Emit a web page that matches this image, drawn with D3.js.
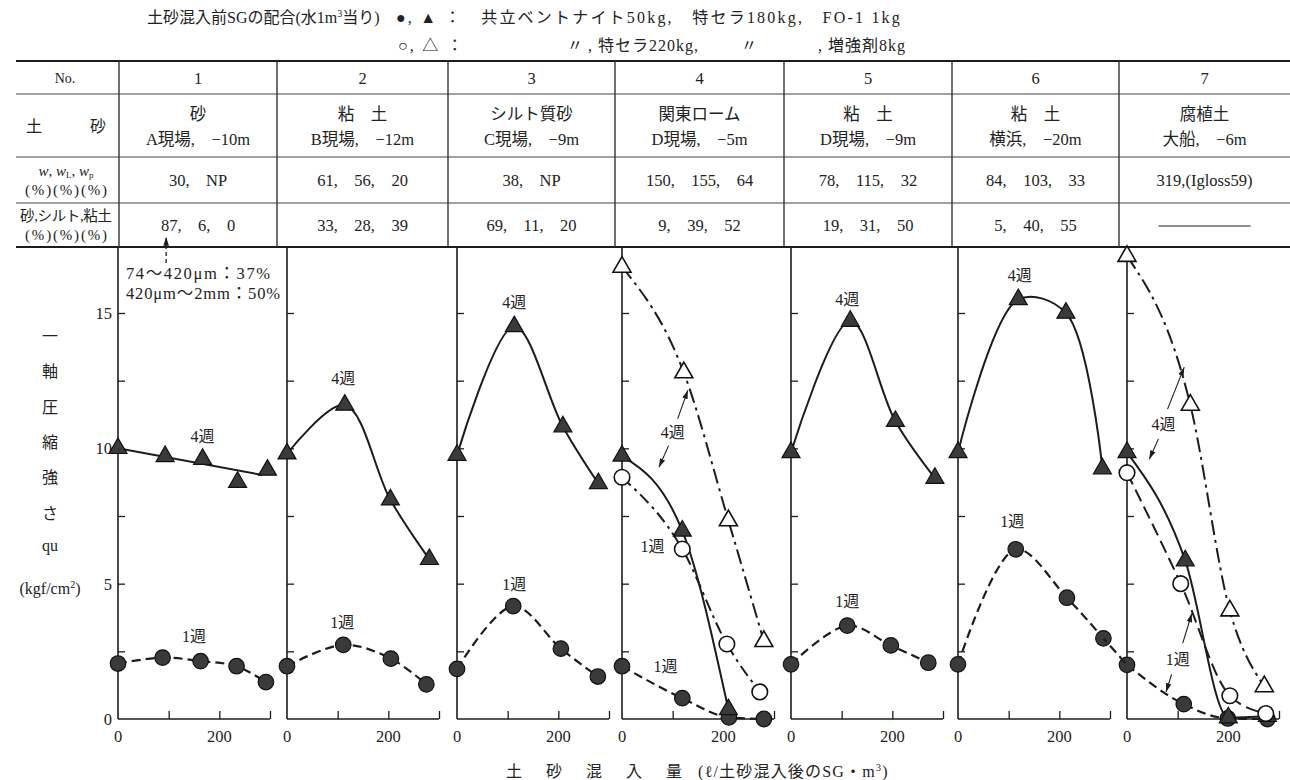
<!DOCTYPE html>
<html>
<head>
<meta charset="utf-8">
<script src="https://cdn.jsdelivr.net/npm/d3@7"></script>
<style>
  body { margin: 0; background: #fff; }
  svg text { font-family: "Liberation Serif", "Noto Sans CJK JP", serif; fill: #222; }
</style>
</head>
<body>
<svg id="chart" width="1290" height="780"></svg>
<script>
// Table contents (one entry per test No.)
const panelNo = ["1", "2", "3", "4", "5", "6", "7"];
const soilType = ["砂", "粘　土", "シルト質砂", "関東ローム", "粘　土", "粘　土", "腐植土"];
const soilSite = ["A現場,　−10m", "B現場,　−12m", "C現場,　−9m", "D現場,　−5m", "D現場,　−9m", "横浜,　−20m", "大船,　−6m"];
const consistency = ["30,　NP", "61,　56,　20", "38,　NP", "150,　155,　64", "78,　115,　32", "84,　103,　33", "319,(Igloss59)"];
const grading = ["87,　6,　0", "33,　28,　39", "69,　11,　20", "9,　39,　52", "19,　31,　50", "5,　40,　55", null];

// header: mix of the SG before soil is mixed in
const mixFilled = ["●, ▲ ：", "共立ベントナイト50kg,", "特セラ180kg,", "FO-1 1kg"];
const mixOpen = ["○, △ ：", "〃", ", 特セラ220kg,", "〃", ", 増強剤8kg"];

// qu (kgf/cm2) vs mixed soil amount (l / SG m3): [x, qu]
// ● 1 week, mix with 特セラ180kg
const week1Filled = [
  [[0, 2.05], [88, 2.27], [163, 2.14], [234, 1.95], [292, 1.36]],
  [[0, 1.95], [111, 2.74], [205, 2.23], [275, 1.28]],
  [[0, 1.85], [111, 4.17], [205, 2.6], [278, 1.57]],
  [[0, 1.95], [119, 0.77], [211, 0.06], [280, 0.0]],
  [[0, 2.02], [111, 3.45], [197, 2.72], [271, 2.08]],
  [[0, 2.02], [114, 6.27], [215, 4.48], [287, 2.98]],
  [[0, 2.0], [112, 0.55], [199, 0.02], [277, 0.0]]
];
// ▲ 4 weeks
const week4Filled = [
  [[0, 10.0], [93, 9.7], [167, 9.6], [236, 8.75], [295, 9.2]],
  [[0, 9.8], [114, 11.6], [204, 8.1], [281, 5.9]],
  [[0, 9.75], [113, 14.5], [209, 10.8], [279, 8.7]],
  [[0, 9.72], [119, 6.95], [210, 0.35]],
  [[0, 9.85], [117, 14.7], [206, 11.0], [284, 8.9]],
  [[0, 9.85], [119, 15.5], [213, 15.0], [285, 9.25]],
  [[0, 9.85], [115, 5.85], [200, 0.05], [277, 0.1]]
];
// panel 1: straight fitted line for ▲
const week4Fit1 = [[0, 10.0], [284, 9.02]];
// ○ 1 week / △ 4 weeks, mix with 特セラ220kg + 増強剤
const week1Open = [null, null, null,
  [[0, 8.93], [119, 6.28], [207, 2.77], [272, 1.0]],
  null, null,
  [[0, 9.1], [106, 5.0], [203, 0.86], [274, 0.2]]];
const week4Open = [null, null, null,
  [[0, 16.7], [122, 12.8], [210, 7.33], [280, 2.87]],
  null, null,
  [[0, 17.1], [125, 11.6], [203, 4.0], [271, 1.2]]];

// curve labels: [panel index, text, x, qu]
const curveLabels = [
  [0, "4週", 167, 10.45], [0, "1週", 150, 3.05],
  [1, "4週", 111, 12.6], [1, "1週", 109, 3.6],
  [2, "4週", 113, 15.4], [2, "1週", 113, 5.0],
  [3, "4週", 100, 10.6], [3, "1週", 60, 6.4], [3, "1週", 86, 1.95],
  [4, "4週", 111, 15.5], [4, "1週", 111, 4.35],
  [5, "4週", 122, 16.4], [5, "1週", 107, 7.3],
  [6, "4週", 72, 10.9], [6, "1週", 100, 2.2]
];
// leader arrows: [panel, x1, qu1, x2, qu2]
const labelArrows = [
  [3, 110, 11.1, 130, 12.15], [3, 92, 10.1, 73, 9.3],
  [6, 80, 11.45, 113, 13.0], [6, 62, 10.35, 44, 9.6],
  [6, 110, 2.8, 128, 3.9], [6, 88, 1.65, 77, 1.0]
];

const yTicks = [0, 5, 10, 15];
const yMinor = [2.5, 5, 7.5, 10, 12.5, 15];
const xTicks = [100, 200, 300];
const xTickLabels = [0, 200];
const yTitle = ["一", "軸", "圧", "縮", "強", "さ"];

// ---- layout
const panelX = [118, 287, 457, 622, 791, 958, 1127];
const panelW = 152;
const tableTop = 61, tableBottom = 247;
const rowLines = [94, 157, 203];
const colLines = [119, 277, 448, 615, 784, 952, 1119];
const ink = "#1c1c1c";

const svg = d3.select("#chart");
const y = d3.scaleLinear().domain([0, 15]).range([719, 313]);
const xs = panelX.map((x0) => d3.scaleLinear().domain([0, 300]).range([x0, x0 + panelW]));

const defs = svg.append("defs");
defs.append("marker")
  .attr("id", "arrow")
  .attr("viewBox", "0 -4 10 8")
  .attr("refX", 10).attr("refY", 0)
  .attr("markerWidth", 9).attr("markerHeight", 7)
  .attr("markerUnits", "userSpaceOnUse")
  .attr("orient", "auto")
  .append("path").attr("d", "M0,-3.2L10,0L0,3.2").attr("fill", ink);

// ---- header
const h0 = svg.append("text").attr("x", 147).attr("y", 23).attr("font-size", 16);
h0.append("tspan").text("土砂混入前SGの配合(水1m");
h0.append("tspan").attr("font-size", 10).attr("dy", -6).text("3");
h0.append("tspan").attr("dy", 6).text("当り)");

const head = svg.append("g").attr("font-size", 16).attr("letter-spacing", 2.2);
// line 1: natural widths, remaining room shared between the gaps
const line1Start = 396, line1End = 902;
const l1 = mixFilled.map((t) => head.append("text").attr("y", 23).text(t));
const l1w = l1.map((t) => t.node().getComputedTextLength());
const gap = Math.max(6, (line1End - line1Start - d3.sum(l1w)) / (l1.length - 1));
let cur = line1Start;
l1.forEach((t, i) => { t.attr("x", cur); cur += l1w[i] + gap; });

// line 2, placed as in the print
head.append("text").attr("x", 398).attr("y", 51).text(mixOpen[0]);
head.append("text").attr("x", 576).attr("y", 51).attr("text-anchor", "middle").text(mixOpen[1]);
head.append("text").attr("x", 588).attr("y", 51).attr("letter-spacing", 1).text(mixOpen[2]);
head.append("text").attr("x", 750).attr("y", 51).attr("text-anchor", "middle").text(mixOpen[3]);
head.append("text").attr("x", 906).attr("y", 51).attr("text-anchor", "end")
  .attr("letter-spacing", 1).text(mixOpen[4]);

// ---- table
const tbl = svg.append("g");
tbl.append("line").attr("x1", 16).attr("x2", 1290).attr("y1", tableTop).attr("y2", tableTop)
  .attr("stroke", ink).attr("stroke-width", 2);
tbl.append("line").attr("x1", 16).attr("x2", 1290).attr("y1", tableBottom).attr("y2", tableBottom)
  .attr("stroke", ink).attr("stroke-width", 2);
tbl.selectAll("line.row").data(rowLines).enter().append("line")
  .attr("x1", 16).attr("x2", 1290).attr("y1", (d) => d).attr("y2", (d) => d)
  .attr("stroke", "#444").attr("stroke-width", 1.1);
tbl.selectAll("line.col").data(colLines).enter().append("line")
  .attr("x1", (d) => d).attr("x2", (d) => d).attr("y1", tableTop).attr("y2", tableBottom)
  .attr("stroke", "#333").attr("stroke-width", 1.4);

const colCenter = colLines.map((c, i) => (c + (colLines[i + 1] || 1290)) / 2);
const cell = tbl.append("g").attr("font-size", 16.5).attr("text-anchor", "middle");
const rowMid = [(tableTop + rowLines[0]) / 2, (rowLines[0] + rowLines[1]) / 2,
  (rowLines[1] + rowLines[2]) / 2, (rowLines[2] + tableBottom) / 2];

// row headers
cell.append("text").attr("x", 65).attr("y", rowMid[0] + 5).attr("font-size", 14).text("No.");
cell.append("text").attr("x", 66).attr("y", rowMid[1] + 6).attr("font-size", 16).text("土　　　砂");
const wl = cell.append("text").attr("x", 66).attr("y", rowMid[2] - 4).attr("font-size", 15);
wl.append("tspan").attr("font-style", "italic").text("w");
wl.append("tspan").text(",  ");
wl.append("tspan").attr("font-style", "italic").text("w");
wl.append("tspan").attr("font-size", 9).attr("dy", 2).text("L");
wl.append("tspan").attr("dy", -2).text(",  ");
wl.append("tspan").attr("font-style", "italic").text("w");
wl.append("tspan").attr("font-size", 9).attr("dy", 2).text("p");
cell.append("text").attr("x", 66).attr("y", rowMid[2] + 15).attr("font-size", 15)
  .attr("textLength", 82).attr("lengthAdjust", "spacing").text("(%)(%)(%)");
cell.append("text").attr("x", 66).attr("y", rowMid[3] - 4).attr("font-size", 14.5)
  .attr("textLength", 92).attr("lengthAdjust", "spacing").text("砂,シルト,粘土");
cell.append("text").attr("x", 66).attr("y", rowMid[3] + 15).attr("font-size", 15)
  .attr("textLength", 82).attr("lengthAdjust", "spacing").text("(%)(%)(%)");

colCenter.forEach((cxx, i) => {
  cell.append("text").attr("x", cxx).attr("y", rowMid[0] + 6).text(panelNo[i]);
  cell.append("text").attr("x", cxx).attr("y", rowMid[1] - 6).text(soilType[i]);
  cell.append("text").attr("x", cxx).attr("y", rowMid[1] + 19).text(soilSite[i]);
  cell.append("text").attr("x", cxx).attr("y", rowMid[2] + 6).text(consistency[i]);
  if (grading[i]) {
    cell.append("text").attr("x", cxx).attr("y", rowMid[3] + 6).text(grading[i]);
  } else {
    cell.append("line").attr("x1", cxx - 46).attr("x2", cxx + 46)
      .attr("y1", rowMid[3] + 1).attr("y2", rowMid[3] + 1)
      .attr("stroke", ink).attr("stroke-width", 1.2);
  }
});

// ---- y title and tick labels
const yt = svg.append("g").attr("font-size", 16).attr("text-anchor", "middle");
yTitle.forEach((ch, i) => {
  yt.append("text").attr("x", 50).attr("y", 342 + i * 35.3).text(ch);
});
yt.append("text").attr("x", 50).attr("y", 339 + 6 * 35.3).text("qu");
const unit = yt.append("text").attr("x", 50).attr("y", 342 + 7 * 35.3 + 5);
unit.append("tspan").text("(kgf/cm");
unit.append("tspan").attr("font-size", 10).attr("dy", -6).text("2");
unit.append("tspan").attr("dy", 6).text(")");

svg.append("g").attr("font-size", 16.5).attr("text-anchor", "end")
  .selectAll("text").data(yTicks).enter().append("text")
  .attr("x", 112).attr("y", (d) => y(d) + 6).text((d) => d);

// ---- panels
const symFilledCircle = d3.symbol().type(d3.symbolCircle).size(190);
const symTriangle = d3.symbol().type(d3.symbolTriangle).size(140);

function drawCurve(g, x, data, curve, dash, width) {
  const line = d3.line().x((d) => x(d[0])).y((d) => y(d[1])).curve(curve);
  g.append("path").datum(data).attr("d", line)
    .attr("fill", "none").attr("stroke", ink).attr("stroke-width", width)
    .attr("stroke-dasharray", dash);
}

function drawMarks(g, x, data, shape, filled) {
  g.selectAll(null).data(data).enter().append("path")
    .attr("d", shape)
    .attr("transform", (d) => `translate(${x(d[0])},${y(d[1])})`)
    .attr("fill", filled ? "#3a3a3a" : "#fff")
    .attr("stroke", "#111")
    .attr("stroke-width", filled ? 1.2 : 1.6);
}

const dashWeek1 = "9,5";
const dashDot = "15,5,3,5";

panelX.forEach((x0, i) => {
  const x = xs[i];
  const g = svg.append("g");

  // axes
  g.append("line").attr("x1", x0).attr("x2", x0).attr("y1", tableBottom).attr("y2", y(0))
    .attr("stroke", ink).attr("stroke-width", 1.6);
  g.append("line").attr("x1", x0).attr("x2", x0 + panelW).attr("y1", y(0)).attr("y2", y(0))
    .attr("stroke", ink).attr("stroke-width", 1.6);

  const ya = g.append("g").attr("transform", `translate(${x0},0)`)
    .call(d3.axisRight(y).tickValues(yMinor).tickSize(7).tickFormat(""));
  ya.select(".domain").remove();
  ya.selectAll("line").attr("stroke", ink).attr("stroke-width", 1.3);

  const xa = g.append("g").attr("transform", `translate(0,${y(0)})`)
    .call(d3.axisTop(x).tickValues(xTicks).tickSize(8).tickFormat(""));
  xa.select(".domain").remove();
  xa.selectAll("line").attr("stroke", ink).attr("stroke-width", 1.3);

  g.append("g").attr("font-size", 16.5).attr("text-anchor", "middle")
    .selectAll("text").data(xTickLabels).enter().append("text")
    .attr("x", (d) => x(d)).attr("y", y(0) + 23).text((d) => d);

  const steep = week1Open[i] !== null;
  const curve = steep ? d3.curveMonotoneX : d3.curveCatmullRom.alpha(0.5);

  // curves
  drawCurve(g, x, week1Filled[i], curve, dashWeek1, 2.2);
  if (i === 0) drawCurve(g, x, week4Fit1, d3.curveLinear, null, 2);
  else drawCurve(g, x, week4Filled[i], curve, null, 2);
  if (week4Open[i]) drawCurve(g, x, week4Open[i], d3.curveMonotoneX, dashDot, 2);
  if (week1Open[i]) drawCurve(g, x, week1Open[i], d3.curveMonotoneX, i === 6 ? "13,6" : "12,5,3,5", 2);

  // markers
  drawMarks(g, x, week1Filled[i], symFilledCircle, true);
  drawMarks(g, x, week4Filled[i], symTriangle, true);
  if (week1Open[i]) drawMarks(g, x, week1Open[i], symFilledCircle, false);
  if (week4Open[i]) drawMarks(g, x, week4Open[i], symTriangle, false);
});

// dashed 1週 curve of No.6 runs on to the first point of No.7
{
  const a = week1Filled[5][week1Filled[5].length - 1];
  const b = week1Filled[6][0];
  svg.append("line")
    .attr("x1", xs[5](a[0])).attr("y1", y(a[1]))
    .attr("x2", xs[6](b[0])).attr("y2", y(b[1]))
    .attr("stroke", ink).attr("stroke-width", 2.2).attr("stroke-dasharray", dashWeek1)
    .attr("stroke-dashoffset", 4);
}

// curve labels
svg.append("g").attr("font-size", 16).attr("text-anchor", "middle")
  .selectAll("text").data(curveLabels).enter().append("text")
  .attr("x", (d) => xs[d[0]](d[2])).attr("y", (d) => y(d[3]) + 6)
  .text((d) => d[1]);

svg.append("g").selectAll("line").data(labelArrows).enter().append("line")
  .attr("x1", (d) => xs[d[0]](d[1])).attr("y1", (d) => y(d[2]))
  .attr("x2", (d) => xs[d[0]](d[3])).attr("y2", (d) => y(d[4]))
  .attr("stroke", ink).attr("stroke-width", 1.1)
  .attr("marker-end", "url(#arrow)");

// grain size note for No.1 sand
{
  const ax = xs[0](95);
  svg.append("line").attr("x1", ax).attr("x2", ax)
    .attr("y1", tableBottom + 16).attr("y2", tableBottom - 10)
    .attr("stroke", ink).attr("stroke-width", 1.3).attr("stroke-dasharray", "4,3")
    .attr("marker-end", "url(#arrow)");
  const note = svg.append("g").attr("font-size", 16.5);
  note.append("text").attr("x", 126).attr("y", 279).attr("textLength", 144)
    .attr("lengthAdjust", "spacing").text("74～420μm：37%");
  note.append("text").attr("x", 126).attr("y", 299).attr("textLength", 154)
    .attr("lengthAdjust", "spacing").text("420μm～2mm：50%");
}

// x title
{
  const xt = svg.append("g").attr("font-size", 16);
  ["土", "砂", "混", "入", "量"].forEach((ch, i) => {
    xt.append("text").attr("x", 506 + i * 40).attr("y", 777).text(ch);
  });
  const t = xt.append("text").attr("x", 698).attr("y", 777).attr("letter-spacing", 1.2);
  t.append("tspan").text("(ℓ/土砂混入後のSG・m");
  t.append("tspan").attr("font-size", 10).attr("dy", -6).text("3");
  t.append("tspan").attr("dy", 6).text(")");
}
</script>
</body>
</html>
